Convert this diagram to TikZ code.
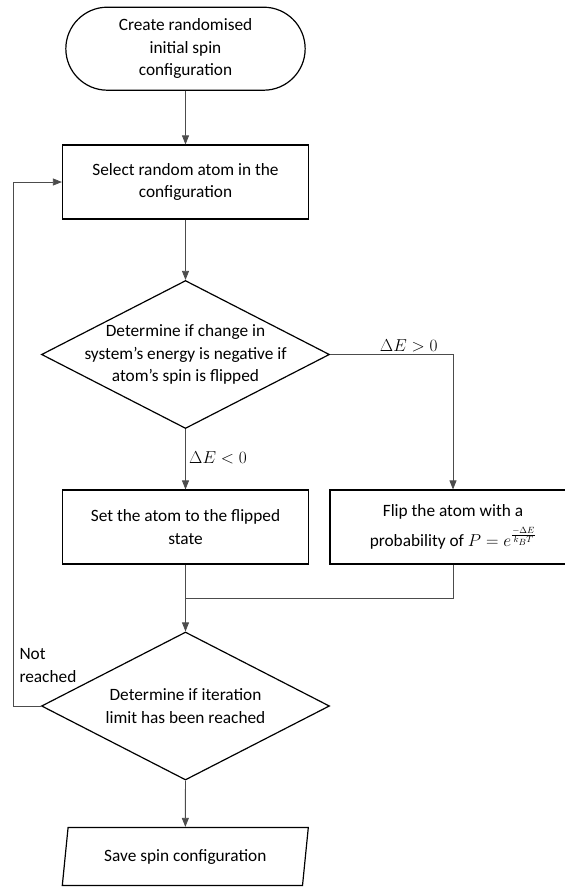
\documentclass[tikz,border=0pt]{standalone}
\usepackage{fontspec}
\setmainfont{Carlito}
\usepackage{tikz}
\usetikzlibrary{arrows.meta, shapes.geometric, shapes.misc}

\begin{document}
\begin{tikzpicture}[x=1pt, y=-1pt,
    every node/.style={font=\fontsize{17.3}{22.5}\selectfont},
    startstop/.style={draw, line width=1.2pt, rounded rectangle, minimum width=246pt, minimum height=83pt, align=center},
    process/.style={draw, line width=1.2pt, rectangle, minimum width=246pt, minimum height=74pt, align=center},
    decision/.style={draw, line width=1.2pt, diamond, minimum width=288pt, minimum height=148pt, inner sep=0pt},
    iobox/.style={draw, line width=1.2pt, trapezium, trapezium left angle=75, trapezium right angle=105, trapezium stretches body, minimum width=246pt, minimum height=58pt},
    line/.style={draw=black!70, line width=0.8pt},
    arrow/.style={line, -{Triangle[length=9pt, width=7pt]}}]
        \clip (0,0) rectangle (565,887);

        % Shapes
        \node[startstop] (start) at (185.5,48.7) {Create randomised\\initial spin\\configuration};
        \node[process] (select) at (185.5,182) {Select random atom in the\\configuration};
        \node[decision, label={[align=center]center:Determine if change in\\system’s energy is negative if\\atom’s spin is flipped}] (dec1) at (185.5,354.5) {};
        \node[process] (set) at (185.5,527) {Set the atom to the flipped\\state};
        \node[process] (flip) at (453,527) {Flip the atom with a\\[7pt]probability of $\displaystyle P = e^{\frac{-\Delta E}{k_B T}}$};
        \node[decision, label={[align=center]center:Determine if iteration\\limit has been reached}] (dec2) at (185.5,706) {};
        \node[iobox] (save) at (185.3,856.5) {Save spin configuration};

        \coordinate (merge) at (185.5,598);
        \coordinate (loop) at (13.3,706);

        % Connectors
        \draw[arrow] (start) -- (select);
        \draw[arrow] (select) -- (dec1);
        \draw[arrow] (dec1) -- node[right, pos=0.47] {$\Delta E < 0$} (set);
        \draw[arrow] (dec1.east) -| node[above, pos=0.32, inner sep=2pt] {$\Delta E > 0$} (flip.north);
        \draw[line] (set.south) -- (merge);
        \draw[line] (flip.south) |- (merge);
        \draw[arrow] (merge) -- (dec2.north);
        \draw[arrow] (dec2.west) -- (loop) |- (select.west);
        \draw[arrow] (dec2) -- (save);

        \node[anchor=north west, align=left] (notreached) at (16,645) {Not\\reached};
      \end{tikzpicture}
\end{document}
